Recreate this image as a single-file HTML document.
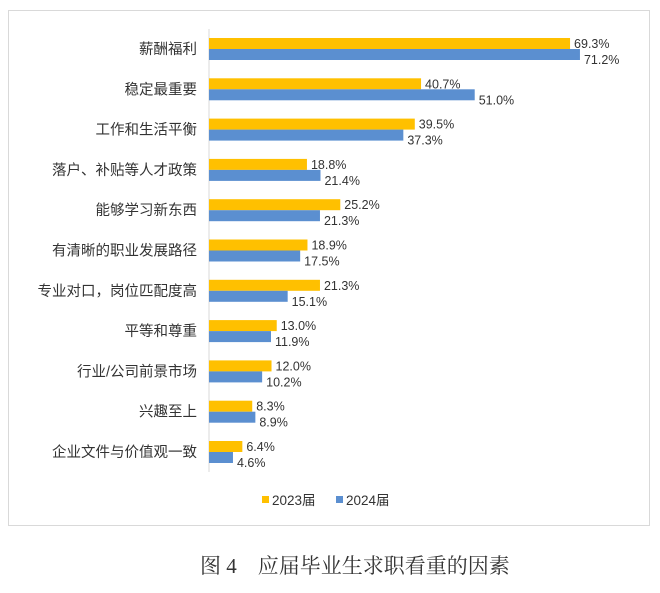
<!DOCTYPE html>
<html><head><meta charset="utf-8">
<style>
body{margin:0;background:#fff;width:660px;height:593px;overflow:hidden;font-family:"Liberation Sans","Noto Sans CJK SC",sans-serif;}
#frame{position:absolute;left:8px;top:10px;width:642px;height:516px;border:1px solid #d9d9d9;box-sizing:border-box;}
#cap{position:absolute;left:200px;top:550px;white-space:nowrap;font-family:"Liberation Serif","Noto Serif CJK SC",serif;font-size:21px;color:#333;}
</style></head><body>
<div id="frame"></div>
<svg id="chart" width="660" height="593" style="position:absolute;left:0;top:0"></svg>
<div id="cap">图 4　应届毕业生求职看重的因素</div>
<script>
const categories=["薪酬福利","稳定最重要","工作和生活平衡","落户、补贴等人才政策","能够学习新东西","有清晰的职业发展路径","专业对口，岗位匹配度高","平等和尊重","行业/公司前景市场","兴趣至上","企业文件与价值观一致"];
const s2023=[69.3,40.7,39.5,18.8,25.2,18.9,21.3,13.0,12.0,8.3,6.4];
const s2024=[71.2,51.0,37.3,21.4,21.3,17.5,15.1,11.9,10.2,8.9,4.6];
const seriesNames=["2023届","2024届"];
const NS="http://www.w3.org/2000/svg";
const svg=document.getElementById('chart');
const x0=209,pxPer=5.21,y0=49,pitch=40.3,bh=11;
const xs=v=>x0+v*pxPer;
const yc=i=>y0+i*pitch;
function mk(t,a){const e=document.createElementNS(NS,t);for(const k in a)e.setAttribute(k,a[k]);svg.appendChild(e);return e;}
const ax=mk('line',{x1:x0,x2:x0,y1:29,y2:472,stroke:'#d9d9d9','stroke-width':1});


categories.forEach((c,i)=>{
  const t=mk('text',{x:197,y:yc(i)+5,'text-anchor':'end','font-size':14.5,fill:'#333'});
  t.textContent=c;
  
  
  const b1=mk('rect',{x:x0,y:yc(i)-bh,width:xs(s2023[i])-x0,height:bh,fill:'#FFC000'});
  
  
  const b2=mk('rect',{x:x0,y:yc(i),width:xs(s2024[i])-x0,height:bh,fill:'#5B8FD0'});
  
  
  const l1=mk('text',{x:xs(s2023[i])+4,y:yc(i)-1,'font-size':12.5,fill:'#333'});
  l1.textContent=s2023[i].toFixed(1)+'%';
  
  
  const l2=mk('text',{x:xs(s2024[i])+4,y:yc(i)+15,'font-size':12.5,fill:'#333'});
  l2.textContent=s2024[i].toFixed(1)+'%';
  
  
});
const cols=['#FFC000','#5B8FD0'],lx=[262,336];
seriesNames.forEach((n,j)=>{
  const r=mk('rect',{x:lx[j],y:496,width:7,height:7,fill:cols[j]});
  
  
  const t=mk('text',{x:lx[j]+10,y:505,'font-size':13.5,fill:'#333'});
  t.textContent=n;
  
  
});
</script>
</body></html>
